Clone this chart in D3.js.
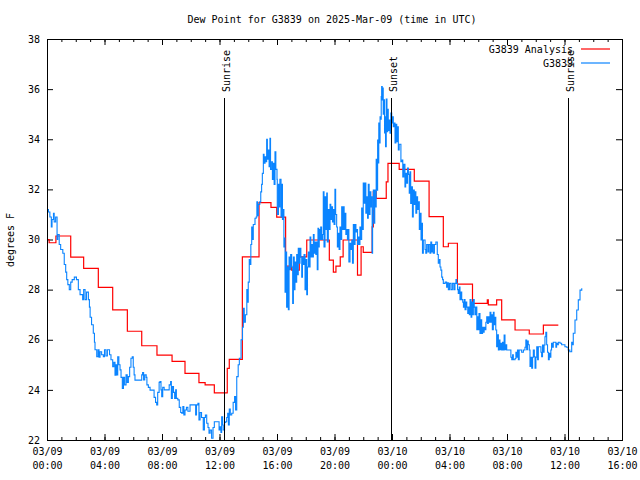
<!DOCTYPE html>
<html>
<head>
<meta charset="utf-8">
<script src="https://cdn.jsdelivr.net/npm/d3@7"></script>
<style>
  body { margin: 0; background: #fff; }
  text { font-family: "DejaVu Sans Mono", monospace; font-size: 10px; fill: #000; }
</style>
</head>
<body>
<div id="chart"></div>
<script>
// hours after 2025-03-09 00:00 UTC, dew point in F
const analysis = [[0,30.0],[0.15,29.87],[0.62,30.14],[1.65,29.3],[2.55,28.85],[3.57,28.09],[4.57,27.19],[5.59,26.34],[6.59,25.76],[7.65,25.39],[8.7,25.14],[9.6,24.66],[10.57,24.29],[11.0,24.2],[11.64,23.88],[12.54,24.86],[12.68,25.22],[13.59,29.31],[14.75,31.47],[15.58,31.28],[15.98,30.89],[16.6,28.94],[17.02,28.78],[17.55,29.31],[18.07,29.98],[19.64,29.18],[19.92,28.7],[20.1,28.94],[20.4,29.31],[20.6,29.98],[21.6,28.58],[21.85,29.71],[22.0,29.49],[22.62,30.5],[22.7,31.91],[22.9,31.64],[23.6,32.3],[23.72,33.04],[24.5,32.8],[25.55,32.33],[26.58,30.91],[27.57,29.71],[27.92,29.85],[28.55,28.22],[29.6,27.45],[30.63,27.59],[30.7,27.39],[31.28,27.59],[31.63,26.79],[32.56,26.39],[33.55,26.23],[34.53,26.58],[35.57,26.58]];

const observed = [[0,31.2],[0.1,31.1],[0.2,30.9],[0.3,30.5],[0.35,30.8],[0.45,31.05],[0.5,30.7],[0.6,30.9],[0.7,30.0],[0.75,30.2],[0.85,29.8],[0.95,29.6],[1.1,29.45],[1.2,29.0],[1.3,28.7],[1.37,28.4],[1.45,28.2],[1.55,28.0],[1.65,28.3],[1.75,28.4],[1.9,28.5],[2.05,28.4],[2.18,28.0],[2.3,27.8],[2.48,27.6],[2.55,28.0],[2.65,27.6],[2.75,27.9],[2.88,27.6],[2.95,27.3],[3.0,26.9],[3.1,26.6],[3.22,26.26],[3.3,25.9],[3.34,25.6],[3.46,25.32],[3.55,25.6],[3.62,25.3],[3.69,25.52],[3.8,25.4],[3.92,25.32],[4.0,25.6],[4.1,25.35],[4.2,25.6],[4.35,25.4],[4.45,25.2],[4.57,24.92],[4.65,25.1],[4.73,24.59],[4.8,25.0],[4.87,24.6],[4.92,25.32],[5.0,25.0],[5.08,24.8],[5.15,24.5],[5.24,24.06],[5.32,24.5],[5.4,24.2],[5.5,24.6],[5.58,24.3],[5.66,24.53],[5.75,24.9],[5.84,25.26],[5.93,25.32],[6.0,24.9],[6.06,24.6],[6.12,24.39],[6.3,24.39],[6.5,24.39],[6.59,24.6],[6.65,24.69],[6.72,24.4],[6.8,24.6],[6.9,24.5],[6.95,24.2],[7.05,24.1],[7.17,23.99],[7.3,23.99],[7.45,23.7],[7.55,23.5],[7.63,23.4],[7.7,23.9],[7.8,24.3],[7.86,24.33],[7.93,24.0],[7.98,23.73],[8.05,24.1],[8.15,24.0],[8.33,24.0],[8.5,24.2],[8.6,24.33],[8.65,23.66],[8.72,24.13],[8.8,23.9],[8.88,23.66],[8.95,24.0],[9.0,23.66],[9.1,23.6],[9.2,23.3],[9.3,23.1],[9.37,23.07],[9.45,23.33],[9.52,23.0],[9.6,23.2],[9.7,23.3],[9.8,23.15],[9.95,23.4],[10.1,23.4],[10.25,23.4],[10.34,23.0],[10.4,23.4],[10.5,23.46],[10.57,22.8],[10.65,23.1],[10.75,22.9],[10.87,22.4],[10.95,22.9],[11.02,23.0],[11.11,22.67],[11.2,22.5],[11.27,22.27],[11.35,22.4],[11.45,22.07],[11.55,22.5],[11.64,22.73],[11.8,22.73],[11.92,22.73],[11.97,22.4],[12.03,22.53],[12.1,22.3],[12.15,22.93],[12.22,22.6],[12.26,22.4],[12.35,22.7],[12.43,22.73],[12.5,22.9],[12.57,23.07],[12.62,22.6],[12.68,23.23],[12.75,23.0],[12.85,23.07],[12.95,23.5],[13.05,23.73],[13.12,23.2],[13.2,24.53],[13.3,25.0],[13.38,25.26],[13.5,26.0],[13.6,26.5],[13.66,27.25],[13.72,26.7],[13.8,27.0],[13.9,28.0],[13.95,27.5],[14.0,28.3],[14.07,29.2],[14.12,29.0],[14.18,29.8],[14.24,30.5],[14.3,30.0],[14.35,30.6],[14.47,30.85],[14.55,30.9],[14.6,31.5],[14.65,30.95],[14.7,31.4],[14.8,31.5],[14.87,31.9],[14.93,32.2],[14.98,32.64],[15.05,33.4],[15.1,33.04],[15.17,33.3],[15.23,33.1],[15.28,34.0],[15.33,33.2],[15.4,33.57],[15.45,32.9],[15.51,34.04],[15.55,32.8],[15.63,33.1],[15.68,32.4],[15.74,33.04],[15.8,32.2],[15.86,33.5],[15.92,32.8],[16.0,32.4],[16.02,31.0],[16.1,32.2],[16.16,31.3],[16.2,32.4],[16.28,30.9],[16.33,32.2],[16.38,30.8],[16.44,31.2],[16.48,29.7],[16.53,30.06],[16.56,27.9],[16.62,29.5],[16.67,27.3],[16.73,28.9],[16.79,27.2],[16.84,29.3],[16.9,28.8],[16.95,29.4],[17.02,28.9],[17.09,27.45],[17.14,29.3],[17.2,28.0],[17.25,29.1],[17.3,28.3],[17.37,29.4],[17.42,28.6],[17.48,29.65],[17.54,29.05],[17.6,29.65],[17.66,29.3],[17.72,28.5],[17.77,29.3],[17.83,29.0],[17.88,29.4],[17.95,28.0],[18.0,29.2],[18.07,27.8],[18.12,28.9],[18.18,29.5],[18.24,28.9],[18.3,30.1],[18.35,29.3],[18.41,29.8],[18.47,29.3],[18.53,30.2],[18.58,29.45],[18.64,29.9],[18.7,29.4],[18.75,29.9],[18.8,28.8],[18.85,30.45],[18.9,29.7],[18.94,30.4],[19.0,30.0],[19.04,30.5],[19.1,30.0],[19.16,30.2],[19.22,31.9],[19.27,29.7],[19.34,31.7],[19.4,30.4],[19.46,31.85],[19.5,29.9],[19.57,31.2],[19.62,30.4],[19.69,31.4],[19.74,30.8],[19.8,31.3],[19.86,30.7],[19.92,31.2],[19.97,30.6],[20.03,32.0],[20.08,31.0],[20.15,30.5],[20.2,29.7],[20.27,30.25],[20.32,29.6],[20.38,30.5],[20.44,30.0],[20.5,31.3],[20.55,30.4],[20.61,31.3],[20.67,30.4],[20.73,31.05],[20.79,30.2],[20.85,30.4],[20.9,30.0],[20.96,30.4],[21.0,29.1],[21.08,29.85],[21.14,29.6],[21.2,29.98],[21.25,29.05],[21.31,30.6],[21.37,29.8],[21.43,30.6],[21.49,30.3],[21.55,30.4],[21.6,29.8],[21.66,30.1],[21.72,29.8],[21.77,30.5],[21.83,30.0],[21.89,31.25],[21.95,30.4],[22.0,32.25],[22.06,31.45],[22.12,32.25],[22.18,31.05],[22.24,31.7],[22.3,30.85],[22.35,32.2],[22.41,31.0],[22.47,31.9],[22.53,31.3],[22.59,31.7],[22.62,29.45],[22.65,31.2],[22.7,31.97],[22.74,30.65],[22.8,31.97],[22.85,31.3],[22.9,33.2],[22.94,31.97],[23.0,33.97],[23.05,33.05],[23.08,34.65],[23.12,33.85],[23.17,34.9],[23.22,34.8],[23.25,35.7],[23.28,36.1],[23.32,35.57],[23.35,36.04],[23.39,35.0],[23.44,35.57],[23.48,34.25],[23.51,34.9],[23.55,33.7],[23.6,35.6],[23.65,34.3],[23.7,35.2],[23.74,34.35],[23.8,34.77],[23.86,34.24],[23.92,35.05],[23.98,34.65],[24.03,34.9],[24.09,34.5],[24.15,34.65],[24.21,33.85],[24.27,34.6],[24.33,33.9],[24.39,34.5],[24.44,33.57],[24.5,33.8],[24.56,33.8],[24.62,33.1],[24.7,33.17],[24.75,32.5],[24.82,33.0],[24.9,32.1],[24.95,32.64],[25.02,32.25],[25.08,32.85],[25.14,32.6],[25.2,31.85],[25.25,32.7],[25.3,31.44],[25.37,32.1],[25.42,30.9],[25.48,31.97],[25.55,31.4],[25.6,31.9],[25.66,31.05],[25.72,31.7],[25.78,31.2],[25.83,31.5],[25.9,30.4],[25.95,31.05],[26.02,29.98],[26.07,30.65],[26.12,29.45],[26.18,29.98],[26.3,29.6],[26.35,29.45],[26.41,29.8],[26.5,29.5],[26.55,29.8],[26.64,29.45],[26.7,29.9],[26.76,29.5],[26.82,29.8],[26.87,29.45],[26.95,29.8],[27.05,29.9],[27.15,29.4],[27.22,29.05],[27.3,29.2],[27.34,28.9],[27.4,28.78],[27.46,28.5],[27.52,28.4],[27.57,28.25],[27.7,28.3],[27.8,28.1],[27.86,28.27],[27.92,28.0],[28.0,28.25],[28.1,28.0],[28.2,28.25],[28.3,28.0],[28.38,28.25],[28.45,28.4],[28.5,28.25],[28.56,28.0],[28.61,27.85],[28.68,28.1],[28.73,27.6],[28.8,27.9],[28.85,27.6],[28.92,27.5],[28.97,27.3],[29.03,27.6],[29.08,27.2],[29.15,27.5],[29.2,27.3],[29.27,27.05],[29.32,27.3],[29.38,27.0],[29.43,27.6],[29.5,26.9],[29.55,27.5],[29.6,27.0],[29.66,27.6],[29.72,27.3],[29.77,27.0],[29.83,27.3],[29.9,26.4],[29.95,26.92],[30.0,26.4],[30.05,27.05],[30.12,26.25],[30.18,26.8],[30.24,26.25],[30.3,26.5],[30.35,26.3],[30.41,26.5],[30.47,26.4],[30.53,26.7],[30.59,26.92],[30.65,26.65],[30.7,26.92],[30.76,26.7],[30.82,27.1],[30.88,26.7],[30.93,27.0],[30.98,26.4],[31.05,27.1],[31.1,26.6],[31.17,26.9],[31.22,26.39],[31.28,25.72],[31.34,26.2],[31.4,25.59],[31.45,25.99],[31.51,25.6],[31.57,25.86],[31.63,25.59],[31.69,25.9],[31.74,25.59],[31.8,26.19],[31.86,25.6],[31.92,25.8],[31.98,25.59],[32.09,25.59],[32.21,25.59],[32.27,25.3],[32.33,25.2],[32.39,25.4],[32.44,25.2],[32.56,25.25],[32.62,25.5],[32.67,25.3],[32.73,25.59],[32.79,25.2],[32.85,25.59],[32.9,25.59],[33.02,25.5],[33.14,25.59],[33.25,25.7],[33.31,25.99],[33.37,25.6],[33.43,25.95],[33.48,25.8],[33.55,25.59],[33.6,24.93],[33.66,25.3],[33.72,24.86],[33.78,25.3],[33.83,25.59],[33.9,25.32],[33.95,24.86],[34.01,25.3],[34.07,25.72],[34.13,25.2],[34.18,25.72],[34.3,25.72],[34.36,25.5],[34.41,25.32],[34.47,25.79],[34.53,25.5],[34.58,25.79],[34.64,26.12],[34.7,26.3],[34.76,25.8],[34.82,25.5],[34.88,25.2],[34.94,25.46],[34.99,25.3],[35.05,25.59],[35.1,25.86],[35.16,25.7],[35.22,25.9],[35.34,25.9],[35.4,25.7],[35.45,25.86],[35.5,25.8],[35.57,25.9],[35.69,25.86],[35.8,25.8],[35.92,25.8],[36.03,25.72],[36.15,25.7],[36.26,25.59],[36.37,25.52],[36.43,25.52],[36.5,25.9],[36.55,25.8],[36.61,26.26],[36.73,26.79],[36.85,27.19],[36.96,27.59],[37.08,27.98],[37.2,28.05]];

const sunEvents = [[12.31, "Sunrise"], [23.9, "Sunset"], [36.26, "Sunrise"]];
const yTicks = [22, 24, 26, 28, 30, 32, 34, 36, 38];
const seriesNames = ["G3839 Analysis", "G3839"];
const seriesColors = ["#ff0000", "#0a84ff"];

var svgWidth = 640;
var svgHeight = 480;
var margin = { top: 39, right: 18, bottom: 40, left: 47 };
const width = svgWidth - margin.left - margin.right;
const height = svgHeight - margin.top - margin.bottom;

const t0 = Date.UTC(2025, 2, 9, 0, 0);
const toDate = h => new Date(t0 + h * 3600e3);

const svg = d3.select("#chart").append("svg")
  .attr("width", svgWidth)
  .attr("height", svgHeight);

const chartGroup = svg.append("g")
  .attr("transform", `translate(${margin.left}, ${margin.top})`);

const xScale = d3.scaleUtc()
  .domain([toDate(0), toDate(40)])
  .range([0, width]);
const yScale = d3.scaleLinear()
  .domain([22, 38])
  .range([height, 0]);

// minor ticks every hour, major every 4 hours, on all four sides
function styleAxis(g) {
  g.select(".domain").remove();
  g.selectAll("line").attr("stroke", "#000");
}
chartGroup.append("g").attr("transform", `translate(0, ${height})`)
  .call(d3.axisBottom(xScale).ticks(d3.utcHour.every(1)).tickSize(-3).tickFormat(""))
  .call(styleAxis);
chartGroup.append("g")
  .call(d3.axisTop(xScale).ticks(d3.utcHour.every(1)).tickSize(-3).tickFormat(""))
  .call(styleAxis);
chartGroup.append("g")
  .call(d3.axisTop(xScale).ticks(d3.utcHour.every(4)).tickSize(-6).tickFormat(""))
  .call(styleAxis);

const fmtDay = d3.utcFormat("%m/%d");
const fmtTime = d3.utcFormat("%H:%M");
const xAxis = chartGroup.append("g").attr("transform", `translate(0, ${height})`)
  .call(d3.axisBottom(xScale).ticks(d3.utcHour.every(4)).tickSize(-6).tickPadding(8))
  .call(styleAxis);
xAxis.selectAll(".tick text").text(null)
  .attr("dy", null)
  .each(function(d) {
    const t = d3.select(this);
    t.append("tspan").attr("x", 0).attr("dy", "0.71em").text(fmtDay(d));
    t.append("tspan").attr("x", 0).attr("dy", "1.35em").text(fmtTime(d));
  });

chartGroup.append("g")
  .call(d3.axisLeft(yScale).tickValues(yTicks).tickSize(-6).tickPadding(7))
  .call(styleAxis);
chartGroup.append("g").attr("transform", `translate(${width}, 0)`)
  .call(d3.axisRight(yScale).tickValues(yTicks).tickSize(-6).tickFormat(""))
  .call(styleAxis);

svg.selectAll("text").style("font-family", "'DejaVu Sans Mono', monospace").style("font-size", "10px");

// clip
chartGroup.append("clipPath").attr("id", "clip")
  .append("rect").attr("width", width).attr("height", height);

const line = d3.line()
  .curve(d3.curveStepAfter)
  .x(d => xScale(toDate(d[0])))
  .y(d => yScale(d[1]));

const plot = chartGroup.append("g").attr("clip-path", "url(#clip)");
plot.append("path")
  .datum(analysis)
  .attr("fill", "none")
  .attr("stroke", seriesColors[0])
  .attr("stroke-width", 1.2)
  .attr("d", line);
plot.append("path")
  .datum(observed)
  .attr("fill", "none")
  .attr("stroke", seriesColors[1])
  .attr("stroke-width", 1.1)
  .attr("d", line);

// sunrise / sunset markers
const sun = chartGroup.selectAll(".sun").data(sunEvents).enter().append("g");
sun.append("line")
  .attr("x1", d => Math.round(xScale(toDate(d[0]))) + 0.5)
  .attr("x2", d => Math.round(xScale(toDate(d[0]))) + 0.5)
  .attr("y1", 59)
  .attr("y2", height)
  .attr("stroke", "#000");
sun.append("text")
  .attr("transform", d => `translate(${Math.round(xScale(toDate(d[0]))) + 6}, 53) rotate(-90)`)
  .text(d => d[1]);

// frame
chartGroup.append("rect")
  .attr("x", 0.5).attr("y", 0.5)
  .attr("width", width).attr("height", height)
  .attr("fill", "none")
  .attr("stroke", "#000");

// legend
const legend = chartGroup.selectAll(".legend").data(seriesNames).enter().append("g")
  .attr("transform", (d, i) => `translate(0, ${10 + i * 14})`);
legend.append("text")
  .attr("x", 526)
  .attr("dy", "0.35em")
  .attr("text-anchor", "end")
  .text(d => d);
legend.append("line")
  .attr("x1", 534).attr("x2", 563)
  .attr("stroke", (d, i) => seriesColors[i])
  .attr("stroke-width", 1.2);

// title and y label
svg.append("text")
  .attr("x", 332)
  .attr("y", 23)
  .attr("text-anchor", "middle")
  .text("Dew Point for G3839 on 2025-Mar-09 (time in UTC)");
svg.append("text")
  .attr("transform", "translate(14, 240) rotate(-90)")
  .attr("text-anchor", "middle")
  .text("degrees F");
</script>
</body>
</html>
